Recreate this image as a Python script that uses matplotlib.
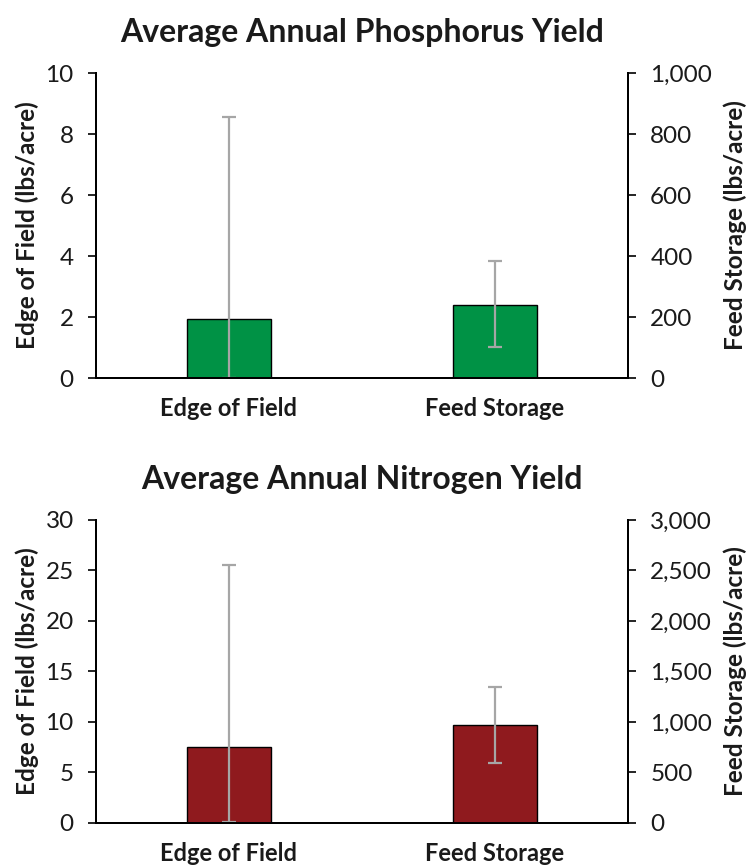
import matplotlib
matplotlib.use("Agg")
import matplotlib.pyplot as plt
from matplotlib.ticker import FuncFormatter, MultipleLocator

plt.rcParams['font.family'] = ['Lato', 'DejaVu Sans']

categories = ["Edge of Field", "Feed Storage"]

# Phosphorus (lbs/acre)
p_edge = 1.94
p_edge_err = [[1.94], [6.62]]
p_feed = 240
p_feed_err = [[137], [145]]

# Nitrogen (lbs/acre)
n_edge = 7.5
n_edge_err = [[7.45], [18.0]]
n_feed = 970
n_feed_err = [[376], [376]]

green = "#009245"
red = "#8F1A1E"
err_color = "#A6A6A6"
text_color = "#1a1a1a"


def draw_panel(fig, rect, title, edge, edge_err, feed, feed_err,
               left_max, left_step, right_max, right_step, color):
    """One panel: edge of field on the left axis, feed storage on the right."""
    ax = fig.add_axes(rect)
    ax2 = ax.twinx()

    ax.bar([0], [edge], width=0.316, color=color, edgecolor="black", linewidth=1)
    ax.errorbar([0], [edge], yerr=edge_err, fmt="none", ecolor=err_color,
                elinewidth=1.6, capsize=5, capthick=1.6)
    ax2.bar([1], [feed], width=0.316, color=color, edgecolor="black", linewidth=1)
    ax2.errorbar([1], [feed], yerr=feed_err, fmt="none", ecolor=err_color,
                 elinewidth=1.6, capsize=5, capthick=1.6)

    ax.set_xlim(-0.5, 1.5)
    ax.set_ylim(0, left_max)
    ax2.set_ylim(0, right_max)
    ax.yaxis.set_major_locator(MultipleLocator(left_step))
    ax2.yaxis.set_major_locator(MultipleLocator(right_step))
    ax2.yaxis.set_major_formatter(FuncFormatter(lambda v, p: f"{int(v):,}"))

    ax.set_xticks([0, 1])
    ax.set_xticklabels(categories, fontsize=17, fontweight="bold", color=text_color)
    ax.tick_params(axis="x", length=0, pad=14)
    for a in (ax, ax2):
        a.tick_params(axis="y", length=6, width=1.2, labelsize=17.5,
                      labelcolor=text_color, pad=10)
        a.spines["top"].set_visible(False)
        for s in ("left", "right", "bottom"):
            a.spines[s].set_linewidth(1.4)
    ax.set_ylabel("Edge of Field (lbs/acre)", fontsize=17.5, fontweight="bold",
                  color=text_color, labelpad=5)
    ax2.set_ylabel("Feed Storage (lbs/acre)", fontsize=17.5, fontweight="bold",
                   color=text_color, labelpad=8)
    ax.set_title(title, fontsize=23, fontweight="bold", color=text_color, pad=22)


fig = plt.figure(figsize=(7.54, 8.66), dpi=100)

draw_panel(fig, [0.1273, 0.5635, 0.7056, 0.3522], "Average Annual Phosphorus Yield",
           p_edge, p_edge_err, p_feed, p_feed_err, 10, 2, 1000, 200, green)
draw_panel(fig, [0.1273, 0.0497, 0.7056, 0.3499], "Average Annual Nitrogen Yield",
           n_edge, n_edge_err, n_feed, n_feed_err, 30, 5, 3000, 500, red)

fig.savefig("out.png", dpi=100)
